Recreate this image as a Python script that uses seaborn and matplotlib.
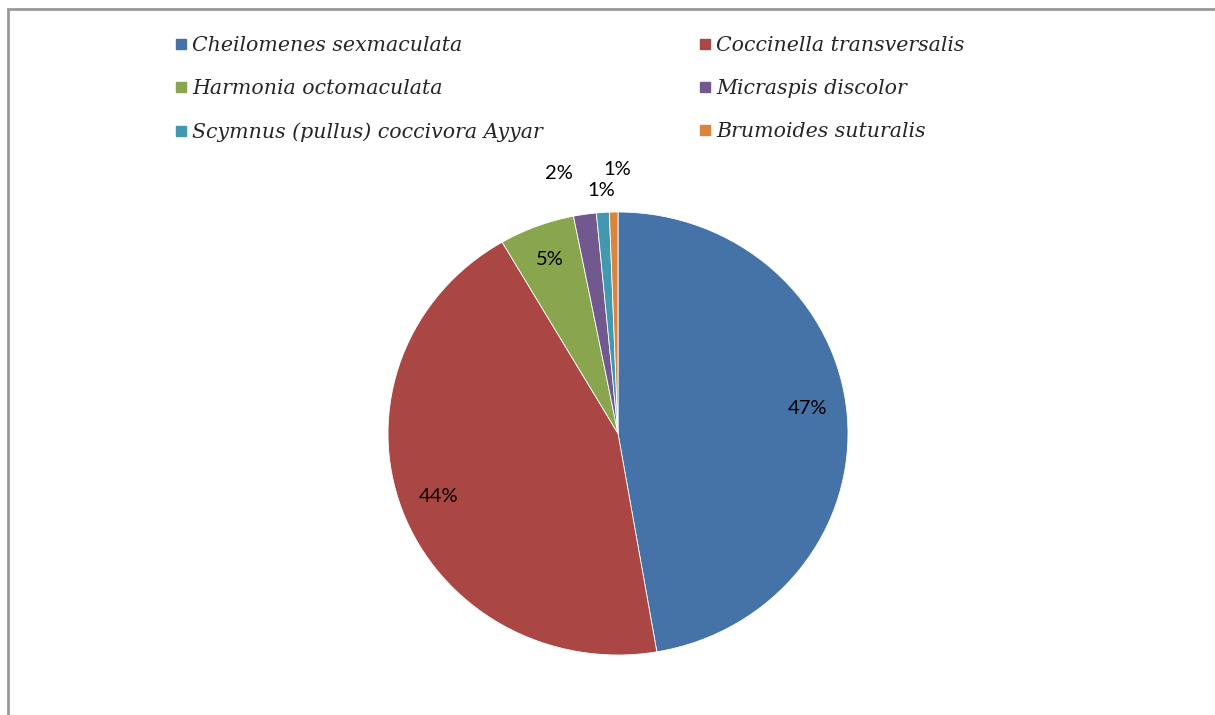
import numpy as np
import matplotlib
matplotlib.use("Agg")
import matplotlib.pyplot as plt
import seaborn as sns
from matplotlib.lines import Line2D
from matplotlib.patches import Rectangle

# data
species = ["Cheilomenes sexmaculata", "Coccinella transversalis", "Harmonia octomaculata",
           "Micraspis discolor", "Scymnus (pullus) coccivora Ayyar", "Brumoides suturalis"]
share = [47.3, 44.3, 5.3, 1.6, 0.9, 0.6]
pct_labels = ["47%", "44%", "5%", "2%", "1%", "1%"]

colors = sns.color_palette(["#4572A7", "#AA4643", "#89A54E", "#71588F", "#4198AF", "#DB843D"])

sns.set_theme(style="white")
W, H = 1215, 715
fig = plt.figure(figsize=(W / 100, H / 100), dpi=100)

# grey frame round the chart area
fig.patches.append(Rectangle((8 / W, -0.1), 1.2, 1 - 9 / H + 0.1, transform=fig.transFigure,
                             fill=False, edgecolor="#999999", linewidth=2))

# the source image is slightly stretched sideways, so the pie is a little elliptical
cx, cy, rx, ry = 618, 433.5, 230, 221.5
ax = fig.add_axes([(cx - rx) / W, (H - cy - ry) / H, 2 * rx / W, 2 * ry / H])
wedges, _ = ax.pie(share, colors=colors, startangle=90, counterclock=False,
                   wedgeprops=dict(edgecolor="white", linewidth=0.6))
ax.set_xlim(-1, 1)
ax.set_ylim(-1, 1)
ax.set_aspect("auto")
ax.axis("off")

# label distance from centre (fraction of radius) and small angle nudge
dist = [0.83, 0.83, 0.84, 1.2, 1.1, 1.19]
nudge = [3, 0, 0, 4, 0, -1]
for w, lab, d, n in zip(wedges, pct_labels, dist, nudge):
    ang = np.deg2rad((w.theta1 + w.theta2) / 2 + n)
    ax.text(d * np.cos(ang), d * np.sin(ang), lab, ha="center", va="center",
            fontsize=14.5, family="Lato", color="black")

# legend in two columns, filled row by row
handles = [Line2D([], [], marker="s", linestyle="none", markersize=7.5,
                  markerfacecolor=c, markeredgecolor=c) for c in colors]
leg_kw = dict(frameon=False, handlelength=0.5, handletextpad=0.3, labelspacing=1.17,
              borderaxespad=0, borderpad=0,
              prop=dict(family="DejaVu Serif", style="italic", size=14.8))
fig.legend([handles[i] for i in (0, 2, 4)], [species[i] for i in (0, 2, 4)],
           loc="upper left", bbox_to_anchor=(176 / W, 1 - 36 / H), **leg_kw)
fig.legend([handles[i] for i in (1, 3, 5)], [species[i] for i in (1, 3, 5)],
           loc="upper left", bbox_to_anchor=(700 / W, 1 - 36 / H), **leg_kw)

fig.savefig("out.png", dpi=100, facecolor="white")
